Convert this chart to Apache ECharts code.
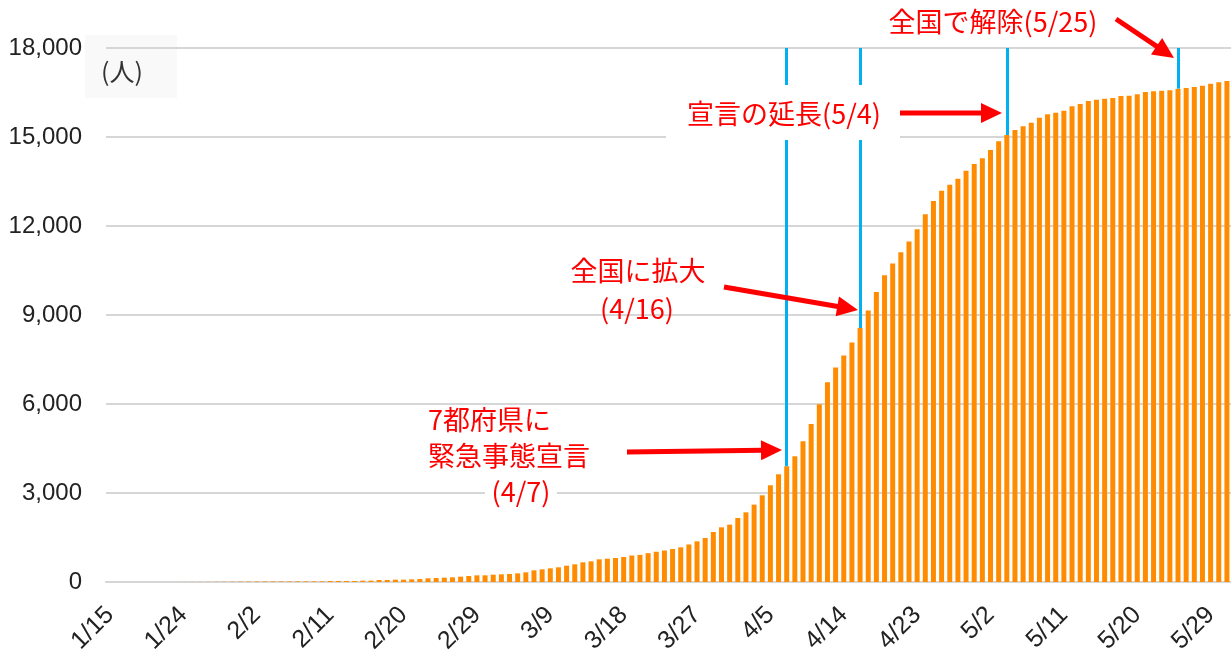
<!DOCTYPE html>
<html lang="ja">
<head>
<meta charset="utf-8">
<title>累積感染者数</title>
<script src="https://cdn.jsdelivr.net/npm/echarts@6/dist/echarts.min.js"></script>
<style>
  html, body { margin: 0; padding: 0; background: #fff; }
  #main { width: 1231px; height: 657px; }
</style>
</head>
<body>
<div id="main"></div>
<script>
// Cumulative confirmed cases (persons), one value per day, 2020-01-15 .. 2020-05-31
const janValues = [1, 1, 1, 1, 1, 1, 1, 1, 1, 2, 3, 4, 4, 7, 8, 11, 14];
const febValues = [15, 17, 20, 20, 20, 20, 22, 22, 22, 22, 34, 34, 34, 34, 45, 45, 67, 67, 79, 79,
                   90, 101, 124, 135, 146, 157, 180, 202, 225];
const marValues = [225, 247, 259, 270, 292, 326, 393, 427, 461, 495, 551, 596, 663, 697, 764, 787,
                   809, 843, 893, 915, 972, 1020, 1062, 1113, 1169, 1265, 1371, 1484, 1686, 1843, 1933];
const aprValues = [2158, 2349, 2608, 2922, 3260, 3631, 3900, 4237, 4743, 5328, 5991, 6733, 7227,
                   7632, 8070, 8565, 9149, 9779, 10341, 10734, 11116, 11476, 11892, 12400, 12842,
                   13190, 13393, 13595, 13865, 14090];
const mayValues = [14281, 14562, 14854, 15067, 15236, 15360, 15483, 15652, 15764, 15820, 15888,
                   16034, 16113, 16214, 16259, 16293, 16315, 16383, 16394, 16439, 16517, 16540,
                   16562, 16574, 16630, 16652, 16686, 16731, 16798, 16843, 16888];

// Month / first day / last day of each block above
const monthSpans = [[1, 15, 31], [2, 1, 29], [3, 1, 31], [4, 1, 30], [5, 1, 31]];

// Y axis ticks
const yTicks = [0, 3000, 6000, 9000, 12000, 15000, 18000];

// Dates with a vertical marker line
const eventDates = ['4/7', '4/16', '5/4', '5/25'];

const unitLabel = '(人)';
const noteLift = '全国で解除(5/25)';
const noteExtend = '宣言の延長(5/4)';
const noteNationwide = ['全国に拡大', '(4/16)'];
const noteFirst = ['7都府県に', '緊急事態宣言', '(4/7)'];

// ---- build category list and series
const categories = [];
monthSpans.forEach(([m, d0, d1]) => {
  for (let d = d0; d <= d1; d++) categories.push(m + '/' + d);
});
const values = [].concat(janValues, febValues, marValues, aprValues, mayValues);
const valueAt = d => values[categories.indexOf(d)];
const yMax = yTicks[yTicks.length - 1];

const RED = '#ff0000';
const CJK = '"Noto Sans CJK JP", sans-serif';

function redText(text, x, y, align, extra) {
  return Object.assign({
    type: 'text', z: 60,
    style: {
      text: text, x: x, y: y,
      fill: RED, font: '27px ' + CJK,
      align: align, textAlign: align,
      verticalAlign: 'middle', textVerticalAlign: 'middle'
    }
  }, extra || {});
}

function arrow(x1, y1, x2, y2) {
  const dx = x2 - x1, dy = y2 - y1;
  const len = Math.hypot(dx, dy);
  const ux = dx / len, uy = dy / len;
  const headLen = 21, headHalf = 10;
  const bx = x2 - ux * headLen, by = y2 - uy * headLen;
  return [
    { type: 'line', z: 60,
      shape: { x1: x1, y1: y1, x2: bx + ux * 2, y2: by + uy * 2 },
      style: { stroke: RED, lineWidth: 5 } },
    { type: 'polygon', z: 60,
      shape: { points: [[x2, y2], [bx - uy * headHalf, by + ux * headHalf], [bx + uy * headHalf, by - ux * headHalf]] },
      style: { fill: RED } }
  ];
}

const graphics = [
  // unit label panel
  { type: 'rect', z: -10, shape: { x: 85, y: 35, width: 92, height: 63 }, style: { fill: '#f9f9f9' } },
  { type: 'text', z: 1,
    style: { text: unitLabel, x: 122, y: 71, fill: '#333', font: '25px ' + CJK,
             align: 'center', textAlign: 'center', verticalAlign: 'middle', textVerticalAlign: 'middle' } },

  // 5/25
  redText(noteLift, 993, 22, 'center'),
  ...arrow(1116, 19, 1174, 58),

  // 5/4 (on a white panel)
  { type: 'rect', z: 55, shape: { x: 666, y: 85, width: 234, height: 55 }, style: { fill: '#ffffff' } },
  redText(noteExtend, 784, 114, 'center'),
  ...arrow(900, 113, 1002, 113),

  // 4/16
  redText(noteNationwide[0], 638, 271, 'center'),
  redText(noteNationwide[1], 637, 309, 'center'),
  ...arrow(724, 287, 858, 310),

  // 4/7
  redText(noteFirst[0], 428, 420, 'left'),
  redText(noteFirst[1], 428, 456, 'left'),
  { type: 'rect', z: 55, shape: { x: 485, y: 479, width: 72, height: 27 }, style: { fill: '#ffffff' } },
  redText(noteFirst[2], 521, 492, 'center'),
  ...arrow(627, 452, 782, 450)
];

const chart = echarts.init(document.getElementById('main'), null, { renderer: 'canvas' });

chart.setOption({
  animation: false,
  backgroundColor: '#ffffff',
  grid: { left: 106, right: 0, top: 48, bottom: 75, containLabel: false },
  xAxis: {
    type: 'category',
    data: categories,
    boundaryGap: true,
    axisLine: { show: true, lineStyle: { color: '#d6d6d6', width: 2 } },
    axisTick: { show: false },
    axisLabel: {
      interval: 8,
      rotate: 45,
      margin: 29,
      color: '#222',
      fontSize: 25,
      fontFamily: '"Liberation Sans", Arial, sans-serif'
    },
    splitLine: { show: false }
  },
  yAxis: {
    type: 'value',
    min: yTicks[0],
    max: yMax,
    interval: yTicks[1] - yTicks[0],
    axisLine: { show: false },
    axisTick: { show: false },
    axisLabel: {
      margin: 24,
      color: '#222',
      fontSize: 24,
      fontFamily: '"Liberation Sans", Arial, sans-serif',
      formatter: v => v.toLocaleString('en-US')
    },
    splitLine: { show: true, lineStyle: { color: '#d6d6d6', width: 2 } }
  },
  series: [{
    type: 'bar',
    data: values,
    barWidth: 5,
    itemStyle: { color: '#ff8c00' },
    markLine: {
      silent: true,
      symbol: ['none', 'none'],
      label: { show: false },
      lineStyle: { color: '#00b0f0', width: 3, type: 'solid' },
      data: eventDates.map(d => [
        { coord: [d, yMax] },
        { coord: [d, valueAt(d)] }
      ])
    }
  }],
  graphic: { elements: graphics }
});
</script>
</body>
</html>
